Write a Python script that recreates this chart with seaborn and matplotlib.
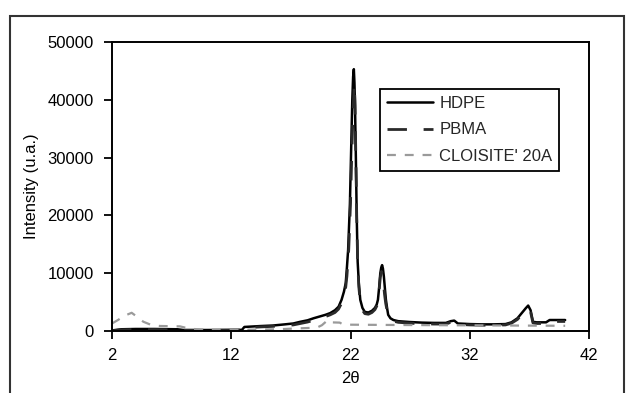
import matplotlib
matplotlib.use("Agg")
import matplotlib.pyplot as plt
import seaborn as sns
import pandas as pd
from matplotlib.patches import Rectangle

# ---- data ----
hdpe_x = [2.0, 2.8, 4.0, 5.5, 7.5, 8.0, 10.0, 12.9, 13.1, 14.4, 15.5, 16.5, 17.2, 17.8, 18.4,
          18.9, 19.4, 19.9, 20.3, 20.7, 21.0, 21.25, 21.45, 21.6, 21.7, 21.8, 21.95, 22.05,
          22.15, 22.22, 22.28, 22.33, 22.37, 22.45, 22.52, 22.6, 22.7, 22.82, 23.0, 23.2,
          23.5, 23.8, 24.05, 24.2, 24.3, 24.4, 24.5, 24.58, 24.65, 24.72, 24.8, 24.9, 24.97,
          25.08, 25.16, 25.35, 25.6, 26.0, 27.0, 28.0, 29.0, 30.0, 30.4, 30.7, 31.0, 32.0,
          33.0, 34.0, 35.0, 35.5, 36.0, 36.4, 36.7, 36.9, 37.1, 37.3, 37.6, 38.4, 38.7, 40.0]
hdpe_y = [100, 300, 350, 350, 300, 170, 170, 200, 700, 850, 950, 1150, 1300, 1600, 1850,
          2200, 2500, 2800, 3100, 3600, 4200, 5400, 6800, 8300, 11000, 14000, 22000, 31000,
          40000, 44000, 45300, 43000, 40000, 30000, 20000, 12000, 8200, 5400, 4000, 3300,
          3200, 3500, 4000, 4600, 5400, 7500, 10000, 11000, 11400, 10800, 9400, 7000, 5400,
          3800, 2800, 2200, 1900, 1700, 1550, 1450, 1400, 1400, 1700, 1800, 1300, 1200,
          1150, 1150, 1200, 1500, 2200, 3200, 3950, 4400, 3600, 1600, 1500, 1500, 1900, 1900]

pbma_x = [2.0, 2.8, 4.0, 5.5, 7.5, 8.0, 10.0, 12.9, 13.1, 14.4, 15.5, 16.5, 17.2, 17.8, 18.4,
          18.9, 19.4, 19.9, 20.3, 20.7, 21.0, 21.25, 21.45, 21.6, 21.7, 21.85, 22.0, 22.1,
          22.2, 22.27, 22.32, 22.38, 22.45, 22.52, 22.6, 22.7, 22.82, 23.0, 23.2,
          23.5, 23.8, 24.05, 24.2, 24.3, 24.4, 24.5, 24.6, 24.68, 24.75, 24.85, 24.95,
          25.08, 25.16, 25.35, 25.6, 26.0, 27.0, 28.0, 29.0, 30.0, 30.4, 30.7, 31.0, 32.0,
          33.0, 34.0, 35.0, 35.5, 36.0, 36.4, 36.7, 36.9, 37.1, 37.3, 37.6, 38.4, 38.7, 40.0]
pbma_y = [50, 200, 250, 250, 200, 120, 120, 150, 550, 700, 800, 950, 1050, 1300, 1550,
          1850, 2150, 2500, 2800, 3200, 3800, 4800, 6000, 7600, 9500, 14000, 22000, 30000,
          37000, 40500, 42800, 39000, 30000, 20000, 12000, 7600, 5000, 3600, 3000,
          2900, 3200, 3700, 4300, 5000, 7000, 9300, 10300, 9800, 8600, 6400, 4800,
          3400, 2500, 2000, 1700, 1500, 1350, 1250, 1200, 1200, 1500, 1600, 1150, 1050,
          1000, 1000, 1050, 1350, 2000, 2900, 3600, 3900, 3300, 1400, 1300, 1300, 1650, 1650]

clay_x = [2.0, 2.5, 3.0, 3.65, 4.2, 4.63, 5.3, 6.0, 7.7, 8.5, 9.5, 12.0, 16.0, 17.0, 18.8,
          19.3, 19.6, 20.1, 20.3, 21.1, 21.4, 25.0, 30.0, 35.0, 40.0]
clay_y = [1300, 1900, 2600, 3150, 2300, 1600, 1040, 870, 800, 400, 250, 200, 300, 400, 550,
          700, 1000, 1900, 1500, 1450, 1100, 1050, 1000, 950, 900]

series_names = ["HDPE", "PBMA", "CLOISITE' 20A"]
x_ticks = [2, 12, 22, 32, 42]
y_ticks = [0, 10000, 20000, 30000, 40000, 50000]

df = pd.concat([
    pd.DataFrame({"x": hdpe_x, "y": hdpe_y, "s": series_names[0]}),
    pd.DataFrame({"x": pbma_x, "y": pbma_y, "s": series_names[1]}),
    pd.DataFrame({"x": clay_x, "y": clay_y, "s": series_names[2]}),
])

sns.set_theme(style="ticks")
plt.rcParams["font.family"] = ["Liberation Sans", "DejaVu Sans"]

fig = plt.figure(figsize=(6.26, 3.93), dpi=100)
ax = fig.add_axes([112 / 626, 1 - 331 / 393, (589 - 112) / 626, (331 - 42) / 393])

styles = {
    series_names[0]: dict(color="black", lw=1.8, ls="-"),
    series_names[1]: dict(color="#2a2a2a", lw=2.0, ls=(0, (7, 6))),
    series_names[2]: dict(color="#9a9a9a", lw=1.6, ls=(0, (4, 4))),
}
for name in series_names:
    st = styles[name]
    sns.lineplot(data=df[df["s"] == name], x="x", y="y", ax=ax, color=st["color"],
                 linewidth=st["lw"], linestyle=st["ls"], label=name, estimator=None,
                 sort=False)

ax.set_xlim(2, 42)
ax.set_ylim(0, 50000)
ax.set_xticks(x_ticks)
ax.set_yticks(y_ticks)
ax.set_xticklabels([str(t) for t in x_ticks])
ax.set_yticklabels([str(t) for t in y_ticks])
ax.tick_params(axis="both", direction="out", length=6, width=1.3, colors="black",
               labelsize=12, pad=7)
ax.tick_params(axis="x", pad=6)
for sp in ax.spines.values():
    sp.set_visible(True)
    sp.set_color("black")
    sp.set_linewidth(1.4)
ax.set_xlabel("2θ", fontsize=12, labelpad=6, color="black")
ax.set_ylabel("Intensity (u.a.)", fontsize=12, labelpad=6, color="black")

leg = ax.legend(loc="upper left", bbox_to_anchor=((380 - 112) / 477, (331 - 89) / 289),
                fontsize=12, frameon=True, fancybox=False, framealpha=1,
                edgecolor="black", handlelength=2.8, handletextpad=0.35,
                labelspacing=0.7, borderpad=0.4, borderaxespad=0)
leg.get_frame().set_linewidth(1.3)

fig.patches.append(Rectangle((10 / 626, -0.1), (624 - 10) / 626, 1.1 - 16 / 393,
                             transform=fig.transFigure, fill=False,
                             edgecolor="#333333", linewidth=1.5, clip_on=False))

fig.savefig("out.png", dpi=100, facecolor="white")
